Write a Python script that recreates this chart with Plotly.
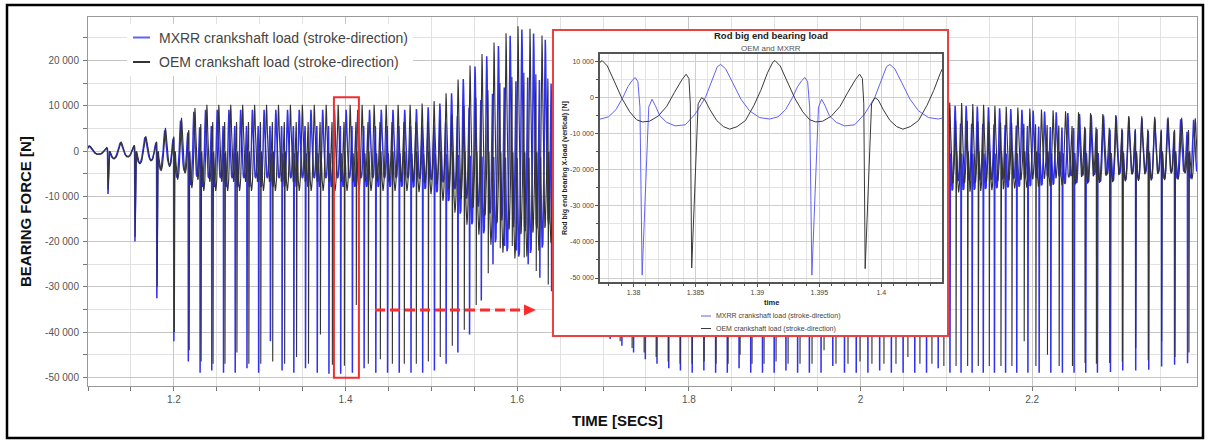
import plotly.graph_objects as go

# ------------------------------------------------------------------ data
# Spike (firing) instants, seconds
blue_spike_t = [
    1.0820, 1.1233, 1.1547, 1.1802, 1.2000,
    1.2169, 1.2306, 1.2442, 1.2579, 1.2715, 1.2852, 1.2988, 1.3125, 1.3261, 1.3398,
    1.3534, 1.3671, 1.3807, 1.3944, 1.4080, 1.4217, 1.4353, 1.4490, 1.4626, 1.4763,
    1.4899, 1.5036, 1.5172, 1.5309, 1.5445, 1.5582, 1.5718, 1.5855, 1.5991, 1.6128,
    1.6264, 1.6401, 1.6537, 1.6674, 1.6810, 1.6947, 1.7083, 1.7220, 1.7356, 1.7493,
    1.7629, 1.7766, 1.7902, 1.8039, 1.8175, 1.8312, 1.8448, 1.8585, 1.8721, 1.8858,
    1.8994, 1.9131, 1.9267, 1.9404, 1.9540, 1.9677, 1.9813, 1.9950, 2.0086, 2.0223,
    2.0359, 2.0496, 2.0632, 2.0769, 2.0905, 2.1042,
    2.1171, 2.1300, 2.1430, 2.1560, 2.1690, 2.1820, 2.1950, 2.2081, 2.2217, 2.2352,
    2.2488, 2.2624, 2.2760, 2.2912, 2.3055, 2.3206, 2.3358, 2.3508, 2.3659, 2.3810,
    2.3962,
]
# oscillation scale of each cycle (1 = the zoomed-in cycle)
blue_amp = [
    0.12, 0.20, 0.33, 0.50, 0.74,
    0.95, 1.00, 1.00, 1.00, 1.00, 1.00, 1.00, 1.00, 1.00, 1.00,
    1.00, 1.00, 1.00, 1.00, 1.00, 1.00, 1.00, 1.00, 1.00, 1.02,
    1.06, 1.15, 1.40, 1.75, 2.05, 2.30, 2.55, 2.80, 2.95, 2.85,
    2.70, 2.50, 2.25, 2.00, 1.75, 1.55, 1.40, 1.30, 1.22, 1.17,
    1.13, 1.10, 1.10, 1.10, 1.10, 1.10, 1.10, 1.10, 1.10, 1.10,
    1.10, 1.10, 1.10, 1.10, 1.10, 1.10, 1.10, 1.10, 1.10, 1.10,
    1.10, 1.10, 1.10, 1.10, 1.10, 1.10,
    1.09, 1.08, 1.06, 1.04, 1.02, 1.00, 0.98, 0.96, 0.94, 0.92,
    0.90, 0.88, 0.86, 0.84, 0.82, 0.80, 0.79, 0.78, 0.77, 0.76,
    0.75,
]
# minimum of each spike, N
blue_depth = [
    -800, -9500, -20000, -32500, -42000,
    -46500, -49000, -48500, -49000, -49000, -48000, -49000, -42000, -48500, -49000,
    -48000, -49000, -49200, -49200, -49000, -48000, -49000, -49000, -49000, -49000,
    -49000, -48500, -47000, -44500, -40500, -33000, -25000, -21000, -22000, -25000,
    -28000, -31000, -34000, -36500, -38500, -40000, -41500, -43000, -44500, -46000,
    -47000, -48000, -48500, -49000, -48500, -49000, -49000, -48000, -49000, -49000,
    -49000, -48500, -49000, -49000, -49000, -47500, -49000, -49000, -49000, -48500,
    -49000, -49000, -49000, -49000, -48000, -49000,
    -49000, -49000, -49000, -49000, -49000, -49000, -49000, -49000, -49000, -49000,
    -49000, -49000, -49000, -48800, -48500, -48500, -48300, -47600, -47200, -46900,
    -46500,
]

black_spike_t = [
    1.0820, 1.1234, 1.1549, 1.1806, 1.2006,
    1.2179, 1.2318, 1.2457, 1.2596, 1.2735, 1.2874, 1.3013, 1.3152, 1.3291, 1.3430,
    1.3569, 1.3708, 1.3847, 1.3987, 1.4126, 1.4266, 1.4406, 1.4546, 1.4685, 1.4825,
    1.4965, 1.5104, 1.5244, 1.5384, 1.5523, 1.5663, 1.5803, 1.5943, 1.6082, 1.6222,
    1.6362, 1.6501, 1.6641, 1.6781, 1.6920, 1.7060, 1.7200, 1.7339, 1.7479, 1.7619,
    1.7759, 1.7898, 1.8038, 1.8178, 1.8317, 1.8457, 1.8597, 1.8736, 1.8876, 1.9016,
    1.9156, 1.9295, 1.9435, 1.9575, 1.9714, 1.9854, 1.9994, 2.0133, 2.0273, 2.0413,
    2.0552, 2.0692, 2.0832, 2.0971,
    2.1113, 2.1248, 2.1372, 2.1500, 2.1636, 2.1764, 2.1907, 2.2043, 2.2178, 2.2314,
    2.2469, 2.2616, 2.2748, 2.2903, 2.3050, 2.3206, 2.3352, 2.3508, 2.3663, 2.3826,
    2.3980,
]
black_amp = [
    0.11, 0.20, 0.32, 0.50, 0.72,
    0.93, 1.00, 1.00, 1.00, 1.00, 1.00, 1.00, 1.00, 1.00, 1.00,
    1.00, 1.00, 1.00, 1.00, 1.00, 1.00, 1.00, 1.00, 1.00, 1.03,
    1.08, 1.25, 1.55, 1.85, 2.10, 2.35, 2.55, 2.70, 2.65, 2.50,
    2.30, 2.10, 1.85, 1.65, 1.45, 1.32, 1.22, 1.15, 1.10, 1.06,
    1.05, 1.05, 1.05, 1.05, 1.05, 1.05, 1.05, 1.05, 1.05, 1.05,
    1.05, 1.05, 1.05, 1.05, 1.05, 1.05, 1.05, 1.05, 1.05, 1.05,
    1.05, 1.05, 1.05, 1.05,
    1.04, 1.02, 1.00, 0.98, 0.96, 0.94, 0.92, 0.90, 0.88, 0.86,
    0.84, 0.82, 0.80, 0.78, 0.76, 0.75, 0.74, 0.73, 0.72, 0.71,
    0.70,
]
black_depth = [
    -700, -8500, -19000, -30000, -40000,
    -44000, -46500, -47000, -47000, -44500, -47000, -47000, -46500, -47000, -45500,
    -47000, -40500, -47200, -47400, -34000, -47000, -46000, -47000, -47000, -47000,
    -46500, -45500, -43000, -39500, -34000, -27000, -21500, -21000, -23500, -26500,
    -29500, -32500, -35000, -37000, -39000, -40500, -42000, -43500, -44500, -45500,
    -46500, -47000, -47000, -46500, -47000, -47000, -45000, -47000, -47000, -46500,
    -47000, -47000, -47000, -44000, -47000, -47000, -46500, -47000, -47000, -47000,
    -45500, -47000, -47000, -47500,
    -47500, -47500, -47500, -47500, -47500, -47500, -42000, -47500, -45000, -47500,
    -47500, -46800, -47000, -46800, -46500, -43500, -46200, -42000, -45500, -44500,
    -44000,
]

# one cycle of each load trace
# (phase 0 = spike, 1 = next spike)
blue_cycle_phase = [0.039, 0.058, 0.078, 0.104, 0.144, 0.194, 0.254, 0.313, 0.373,
                    0.413, 0.443, 0.463, 0.492, 0.532, 0.582, 0.632, 0.692, 0.751,
                    0.800, 0.845, 0.885, 0.915, 0.941, 0.959, 0.975, 0.987]
blue_cycle_load = [-2700, -520, -2300, -5100, -6900, -7900, -7600, -4600, 0,
                   5100, 8500, 9100, 7900, 4200, -500, -3700, -5600, -6000,
                   -5400, -3400, -100, 2900, 4700, 5500, 4300, -2700]
black_cycle_phase = [0.037, 0.057, 0.076, 0.105, 0.144, 0.183, 0.219, 0.262, 0.310,
                     0.359, 0.398, 0.437, 0.467, 0.480, 0.510, 0.550, 0.595, 0.640,
                     0.680, 0.715, 0.755, 0.805, 0.855, 0.900, 0.945, 0.968, 0.984,
                     0.992]
black_cycle_load = [-1800, -100, -700, -3400, -6400, -8100, -8800, -8100, -6400,
                    -2200, 1900, 6800, 9700, 10200, 8700, 4500, -300, -4000,
                    -6200, -6800, -6600, -5200, -2500, 1400, 5000, 6400, 5200,
                    -1800]

series_names = ["MXRR crankshaft load (stroke-direction)",
                "OEM crankshaft load (stroke-direction)"]

y_tickvals = [20000, 10000, 0, -10000, -20000, -30000, -40000, -50000]
y_ticktext = ["20 000", "10 000", "0", "-10 000", "-20 000", "-30 000", "-40 000", "-50 000"]
inset_y_tickvals = [10000, 0, -10000, -20000, -30000, -40000, -50000]
inset_y_ticktext = ["10 000", "0", "-10 000", "-20 000", "-30 000", "-40 000", "-50 000"]


def build_curve(spike_t, amp, depth, phase, load):
    tt, vv = [], []
    n = min(len(spike_t), len(amp), len(depth))
    for k in range(n):
        tt.append(spike_t[k])
        vv.append(depth[k])
        if k + 1 < n:
            span = spike_t[k + 1] - spike_t[k]
            for p, y in zip(phase, load):
                tt.append(spike_t[k] + p * span)
                vv.append(amp[k] * y)
    return tt, vv


bt, bv = build_curve(blue_spike_t, blue_amp, blue_depth, blue_cycle_phase, blue_cycle_load)
kt, kv = build_curve(black_spike_t, black_amp, black_depth, black_cycle_phase, black_cycle_load)

# ------------------------------------------------------------------ layout helpers
W, H = 1209, 441
L, R, T, B = 88, 12, 17, 55
PW, PH = W - L - R, H - T - B


def px(x):
    return (x - L) / PW


def py(y):
    return (H - B - y) / PH


FONT = "Liberation Sans, Arial, sans-serif"
BLUE = "#3030ee"
BLACK = "#333333"
IBLUE = "#6262f2"
IBLACK = "#3a3a3a"

fig = go.Figure()
fig.add_trace(go.Scatter(x=bt, y=bv, mode="lines", line=dict(color=BLUE, width=1.5),
                         name=series_names[0], showlegend=False, hoverinfo="skip"))
fig.add_trace(go.Scatter(x=kt, y=kv, mode="lines", line=dict(color=BLACK, width=1.1),
                         name=series_names[1], showlegend=False, hoverinfo="skip"))
# white card behind the inset
fig.add_trace(go.Scatter(x=[], y=[], xaxis="x2", yaxis="y2", showlegend=False, hoverinfo="skip"))
# inset: same series, zoomed
fig.add_trace(go.Scatter(x=bt, y=bv, mode="lines", line=dict(color=IBLUE, width=1),
                         xaxis="x3", yaxis="y3", showlegend=False, hoverinfo="skip"))
fig.add_trace(go.Scatter(x=kt, y=kv, mode="lines", line=dict(color=IBLACK, width=1),
                         xaxis="x3", yaxis="y3", showlegend=False, hoverinfo="skip"))

tickfont = dict(family=FONT, size=10, color="#555")
ifont = dict(family=FONT, size=7, color="#444")

fig.update_layout(
    width=W, height=H,
    margin=dict(l=L, r=R, t=T, b=B),
    paper_bgcolor="white", plot_bgcolor="white",
    font=dict(family=FONT),
    showlegend=False,
    hovermode=False,
    xaxis=dict(range=[1.1, 2.392], tick0=1.2, dtick=0.2, ticks="outside", ticklen=4,
               tickcolor="#777", showline=True, linecolor="#999", mirror=True,
               showgrid=True, gridcolor="#c6c6c6", zeroline=False, tickfont=tickfont,
               minor=dict(tick0=1.1, dtick=0.05, ticks="outside", ticklen=4, tickcolor="#777",
                          showgrid=True, gridcolor="#e2e2e2")),
    yaxis=dict(range=[-51900, 29600], tickmode="array", tickvals=y_tickvals, ticktext=y_ticktext,
               ticks="outside", ticklen=4, tickcolor="#777", showline=True, linecolor="#999",
               mirror=True, showgrid=True, gridcolor="#c6c6c6", zeroline=False,
               tickfont=tickfont, ticklabelstandoff=2,
               minor=dict(tick0=0, dtick=5000, ticks="outside", ticklen=4, tickcolor="#777",
                          showgrid=True, gridcolor="#e2e2e2")),
    xaxis2=dict(domain=[px(553), px(948)], anchor="y2", range=[0, 1], showgrid=False,
                zeroline=False, showticklabels=False, ticks="", showline=False),
    yaxis2=dict(domain=[py(336), py(30)], anchor="x2", range=[0, 1], showgrid=False,
                zeroline=False, showticklabels=False, ticks="", showline=False),
    xaxis3=dict(domain=[px(600), px(942)], anchor="y3", range=[1.3773, 1.4049],
                tick0=1.38, dtick=0.005, ticks="outside", ticklen=3, tickcolor="#555",
                showline=True, linecolor="#555", linewidth=1.5, mirror=True,
                showgrid=True, gridcolor="#cfcfcf", zeroline=False, tickfont=ifont,
                minor=dict(tick0=1.38, dtick=0.001, ticks="outside", ticklen=2,
                           tickcolor="#555", showgrid=True, gridcolor="#e3e3e3")),
    yaxis3=dict(domain=[py(282), py(54)], anchor="x3", range=[-51100, 12000],
                tickmode="array", tickvals=inset_y_tickvals, ticktext=inset_y_ticktext,
                ticks="outside", ticklen=3, tickcolor="#555", showline=True, linecolor="#555",
                linewidth=1.5, mirror=True, showgrid=True, gridcolor="#cfcfcf",
                zeroline=False, tickfont=ifont,
                minor=dict(tick0=0, dtick=5000, ticks="outside", ticklen=2, tickcolor="#555",
                           showgrid=True, gridcolor="#e3e3e3")),
)

shapes = []
# outer frame of the picture
shapes.append(dict(type="rect", xref="paper", yref="paper", x0=px(7), x1=px(1203),
                   y0=py(438), y1=py(5), line=dict(color="black", width=2.5),
                   fillcolor="rgba(0,0,0,0)", layer="above"))
# legend card
shapes.append(dict(type="rect", xref="paper", yref="paper", x0=px(127), x1=px(413),
                   y0=py(76), y1=py(24), line=dict(width=0), fillcolor="white", layer="above"))
shapes.append(dict(type="line", xref="paper", yref="paper", x0=px(133), x1=px(150),
                   y0=py(37.5), y1=py(37.5), line=dict(color=IBLUE, width=2), layer="above"))
shapes.append(dict(type="line", xref="paper", yref="paper", x0=px(133), x1=px(150),
                   y0=py(62), y1=py(62), line=dict(color=BLACK, width=2), layer="above"))
# red zoom window on the main chart
shapes.append(dict(type="rect", xref="x", yref="y", x0=1.3865, x1=1.4156, y0=-50100, y1=11900,
                   line=dict(color="#ee3030", width=2), fillcolor="rgba(0,0,0,0)", layer="above"))
# dashed arrow
shapes.append(dict(type="line", xref="paper", yref="paper", x0=px(375), x1=px(524),
                   y0=py(310), y1=py(310), line=dict(color="#ff2a2a", width=3, dash="10px,5px"),
                   layer="above"))
shapes.append(dict(type="path", xref="paper", yref="paper",
                   path="M {:.5f},{:.5f} L {:.5f},{:.5f} L {:.5f},{:.5f} Z".format(
                       px(524), py(304.5), px(536), py(310), px(524), py(315.5)),
                   fillcolor="#ff2a2a", line=dict(width=0), layer="above"))
# inset red frame
shapes.append(dict(type="rect", xref="paper", yref="paper", x0=px(553), x1=px(948),
                   y0=py(336), y1=py(30), line=dict(color="#ef4040", width=2),
                   fillcolor="rgba(0,0,0,0)", layer="above"))
# inset legend lines
shapes.append(dict(type="line", xref="paper", yref="paper", x0=px(701), x1=px(711),
                   y0=py(316), y1=py(316), line=dict(color=IBLUE, width=1), layer="above"))
shapes.append(dict(type="line", xref="paper", yref="paper", x0=px(701), x1=px(711),
                   y0=py(328.5), y1=py(328.5), line=dict(color=IBLACK, width=1), layer="above"))
fig.update_layout(shapes=shapes)

ann = []


def text(x, y, s, size, color="#333", bold=False, anchor="left", angle=0):
    ann.append(dict(xref="paper", yref="paper", x=px(x), y=py(y), text=("<b>%s</b>" % s) if bold else s,
                    showarrow=False, xanchor=anchor, yanchor="middle", textangle=angle,
                    font=dict(family=FONT, size=size, color=color)))


text(617, 420, "TIME [SECS]", 15, "#111", True, "center")
text(25, 212, "BEARING FORCE [N]", 15, "#111", True, "center", -90)
text(157, 37.5, series_names[0], 14, "#444")
text(157, 62, series_names[1], 14, "#444")
# inset texts
text(771, 36, "Rod big end bearing load", 9.5, "#222", True, "center")
text(771, 48.5, "OEM and MXRR", 8, "#555", False, "center")
text(771, 302, "time", 7.5, "#222", True, "center")
text(565, 168, "Rod big end bearing X-load (vertical) [N]", 7, "#222", True, "center", -90)
text(714, 316, series_names[0], 7, "#444")
text(714, 328.5, series_names[1], 7, "#444")
fig.update_layout(annotations=ann)

fig.write_html("out.html", config={"displayModeBar": False},
               post_script="document.body.style.margin='0';document.body.style.padding='0';")
